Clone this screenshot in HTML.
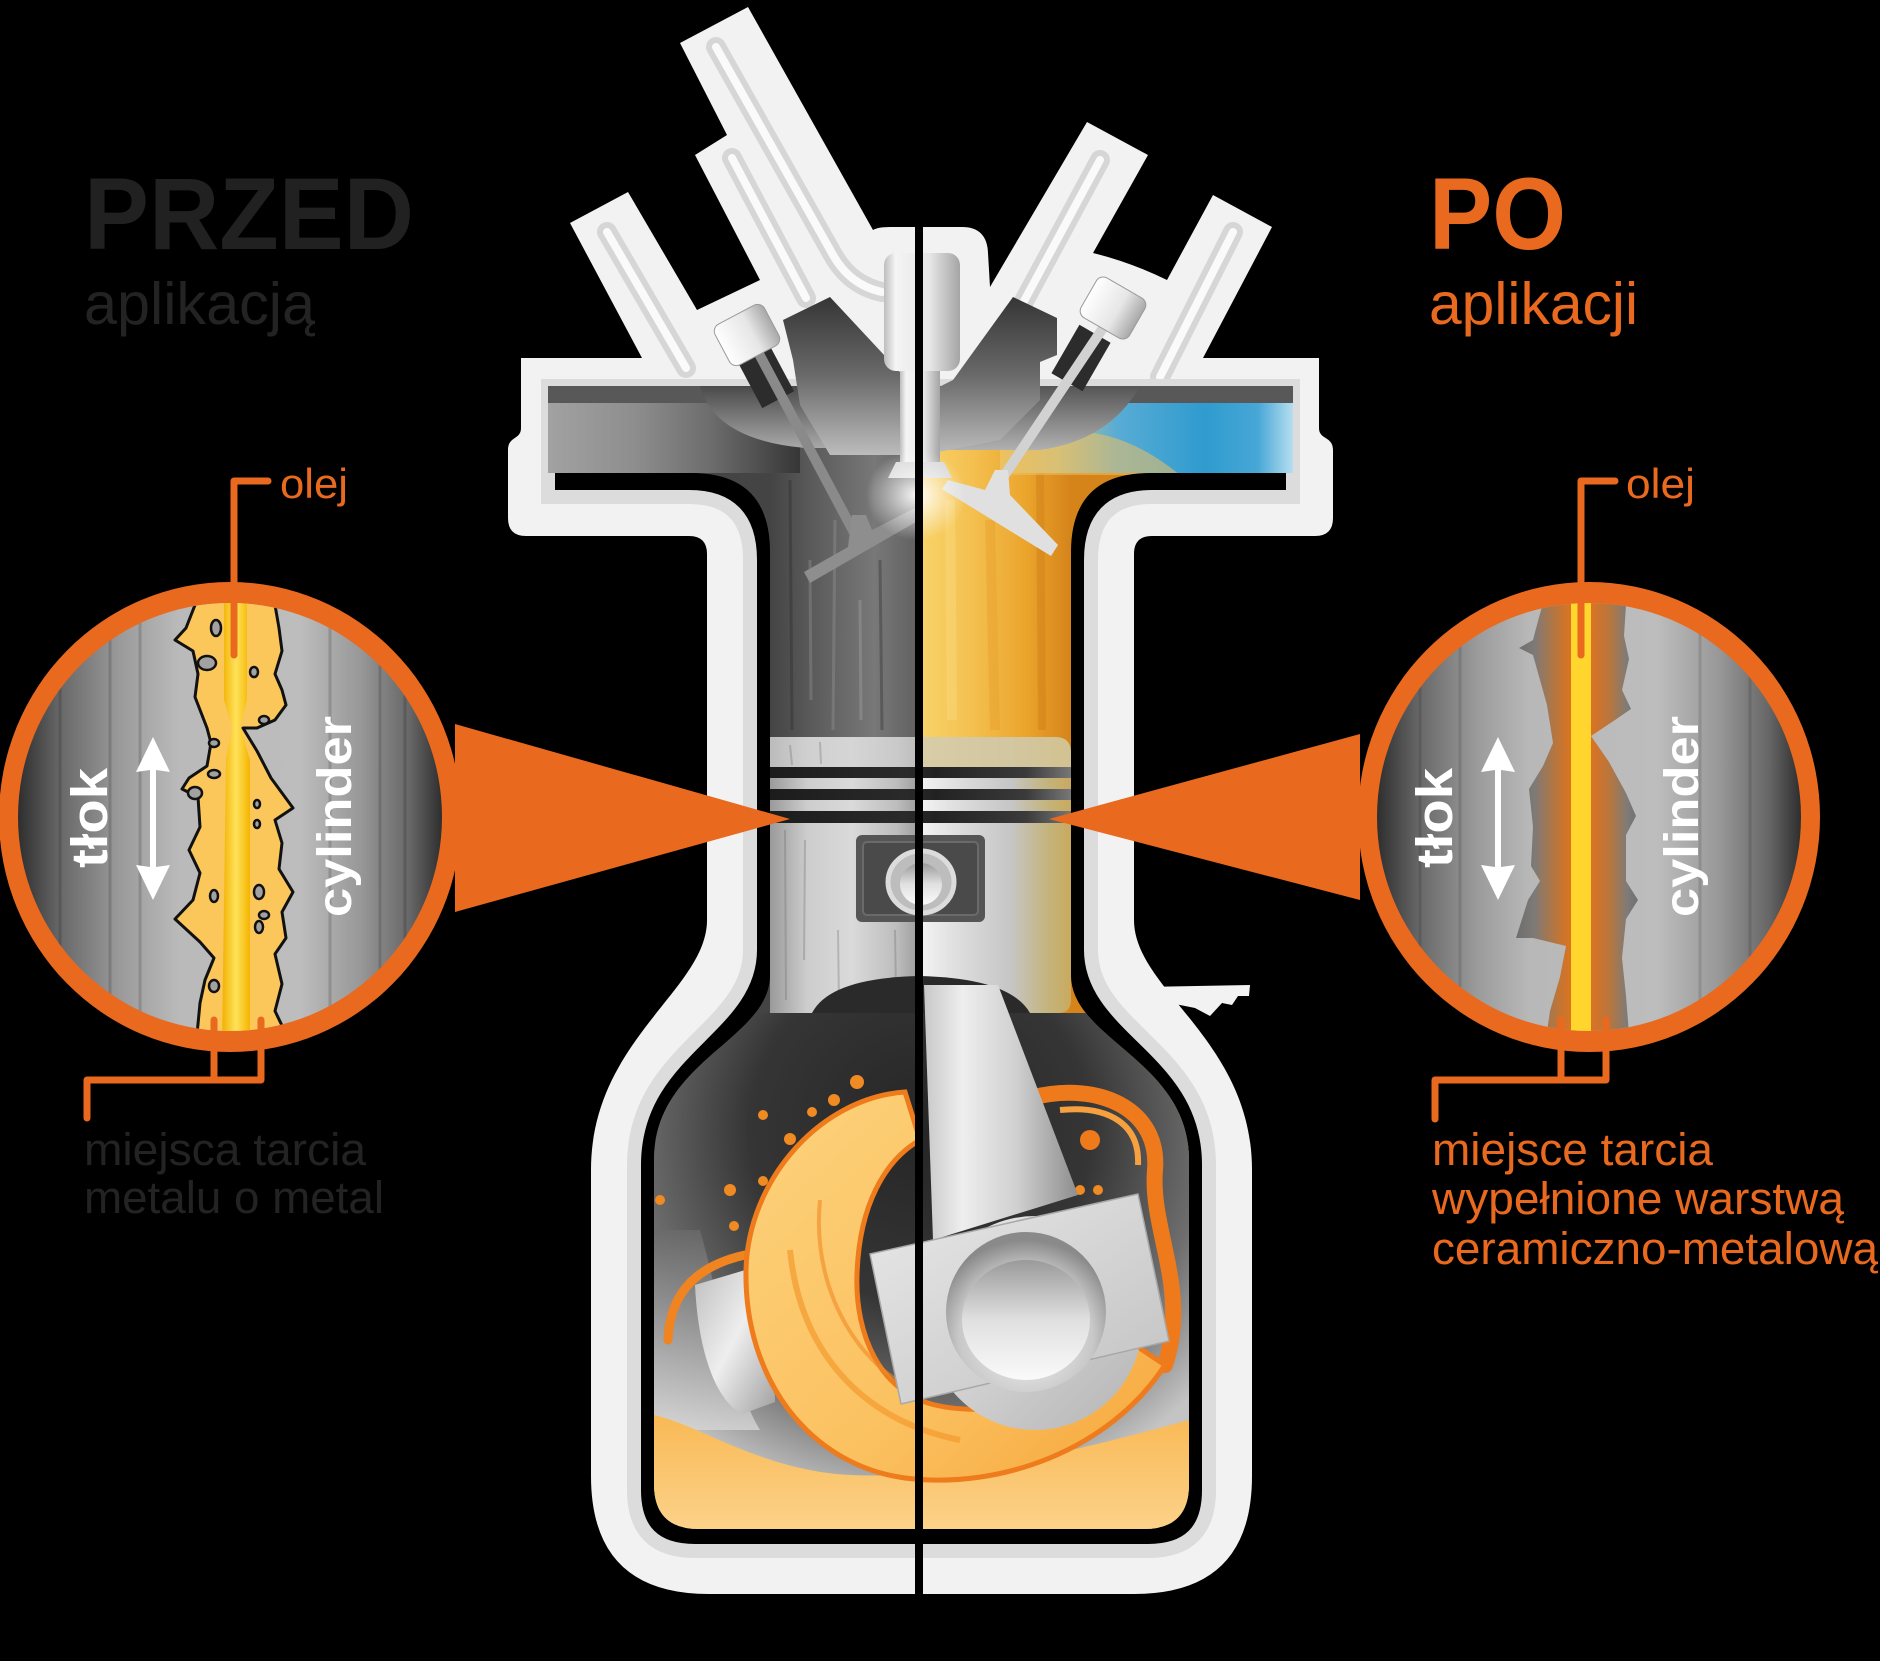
<!DOCTYPE html>
<html><head><meta charset="utf-8"><style>
html,body{margin:0;padding:0;background:#000;}
svg{display:block;}
text{font-family:"Liberation Sans",Arial,sans-serif;}
</style></head><body>
<svg width="1880" height="1661" viewBox="0 0 1880 1661" xmlns="http://www.w3.org/2000/svg">
<defs>
<linearGradient id="lcirc" gradientUnits="userSpaceOnUse" x1="18" y1="0" x2="442" y2="0">
<stop offset="0" stop-color="#2e2e2e"/><stop offset="0.1" stop-color="#686868"/><stop offset="0.24" stop-color="#9a9a9a"/><stop offset="0.38" stop-color="#bababa"/><stop offset="0.665" stop-color="#bdbdbd"/><stop offset="0.807" stop-color="#989898"/><stop offset="0.925" stop-color="#666"/><stop offset="1" stop-color="#2e2e2e"/></linearGradient>
<linearGradient id="rcirc" gradientUnits="userSpaceOnUse" x1="1377" y1="0" x2="1801" y2="0">
<stop offset="0" stop-color="#2e2e2e"/><stop offset="0.1" stop-color="#686868"/><stop offset="0.24" stop-color="#9c9c9c"/><stop offset="0.36" stop-color="#b8b8b8"/><stop offset="0.66" stop-color="#bdbdbd"/><stop offset="0.807" stop-color="#989898"/><stop offset="0.925" stop-color="#666"/><stop offset="1" stop-color="#2e2e2e"/></linearGradient>
<linearGradient id="streakL" x1="0" y1="0" x2="1" y2="0"><stop offset="0" stop-color="#f2b000"/><stop offset="0.5" stop-color="#ffe25a"/><stop offset="1" stop-color="#f5b400"/></linearGradient>
<linearGradient id="bandR" gradientUnits="userSpaceOnUse" x1="1516" y1="0" x2="1640" y2="0">
<stop offset="0" stop-color="#6e6e6e"/><stop offset="0.15" stop-color="#7e7a76"/><stop offset="0.35" stop-color="#c27534"/><stop offset="0.46" stop-color="#e1731d"/><stop offset="0.58" stop-color="#e1731d"/><stop offset="0.76" stop-color="#b7763f"/><stop offset="0.9" stop-color="#7d7b79"/><stop offset="1" stop-color="#6e6e6e"/></linearGradient>
<linearGradient id="cylL" gradientUnits="userSpaceOnUse" x1="770" y1="0" x2="919" y2="0"><stop offset="0" stop-color="#444"/><stop offset="0.3" stop-color="#5c5c5c"/><stop offset="0.7" stop-color="#787878"/><stop offset="1" stop-color="#606060"/></linearGradient>
<linearGradient id="cylR" gradientUnits="userSpaceOnUse" x1="919" y1="0" x2="1071" y2="0"><stop offset="0" stop-color="#f8d46a"/><stop offset="0.35" stop-color="#f4c050"/><stop offset="0.7" stop-color="#eba52c"/><stop offset="1" stop-color="#d5841a"/></linearGradient>
<linearGradient id="chL" gradientUnits="userSpaceOnUse" x1="548" y1="0" x2="800" y2="0"><stop offset="0" stop-color="#a2a2a2"/><stop offset="0.35" stop-color="#8d8d8d"/><stop offset="0.65" stop-color="#6c6c6c"/><stop offset="1" stop-color="#363636"/></linearGradient>
<linearGradient id="chR" gradientUnits="userSpaceOnUse" x1="1000" y1="0" x2="1293" y2="0"><stop offset="0" stop-color="#eec25c"/><stop offset="0.2" stop-color="#b9c090"/><stop offset="0.4" stop-color="#58acd4"/><stop offset="0.7" stop-color="#2f9bcf"/><stop offset="0.88" stop-color="#47a7d6"/><stop offset="1" stop-color="#b6def0"/></linearGradient>
<linearGradient id="domeL" x1="0" y1="0" x2="0" y2="1"><stop offset="0" stop-color="#4a4a4a"/><stop offset="1" stop-color="#a8a8a8"/></linearGradient>
<linearGradient id="domeR" x1="0" y1="0" x2="0" y2="1"><stop offset="0" stop-color="#555"/><stop offset="1" stop-color="#b0b0b0"/></linearGradient>
<linearGradient id="housing" x1="0" y1="0" x2="0" y2="1"><stop offset="0" stop-color="#353535"/><stop offset="0.5" stop-color="#6a6a6a"/><stop offset="1" stop-color="#bcbcbc"/></linearGradient>
<linearGradient id="capG" x1="0" y1="0" x2="1" y2="0"><stop offset="0" stop-color="#ffffff"/><stop offset="0.6" stop-color="#e6e6e6"/><stop offset="1" stop-color="#a8a8a8"/></linearGradient>
<linearGradient id="ccap" x1="0" y1="0" x2="1" y2="0"><stop offset="0" stop-color="#bdbdbd"/><stop offset="0.15" stop-color="#f4f4f4"/><stop offset="0.6" stop-color="#e6e6e6"/><stop offset="1" stop-color="#a5a5a5"/></linearGradient>
<linearGradient id="pistL" gradientUnits="userSpaceOnUse" x1="770" y1="0" x2="919" y2="0"><stop offset="0" stop-color="#9a9a9a"/><stop offset="0.25" stop-color="#cdcdcd"/><stop offset="0.55" stop-color="#dadada"/><stop offset="0.85" stop-color="#bdbdbd"/><stop offset="1" stop-color="#9c9c9c"/></linearGradient>
<linearGradient id="pistR" gradientUnits="userSpaceOnUse" x1="919" y1="0" x2="1071" y2="0"><stop offset="0" stop-color="#f4f4f4"/><stop offset="0.3" stop-color="#dadada"/><stop offset="0.6" stop-color="#c6c6c6"/><stop offset="0.85" stop-color="#c4b37c"/><stop offset="1" stop-color="#c9aa5e"/></linearGradient>
<linearGradient id="ringG" gradientUnits="userSpaceOnUse" x1="770" y1="0" x2="1071" y2="0"><stop offset="0" stop-color="#1c1c1c"/><stop offset="0.45" stop-color="#2a2a2a"/><stop offset="0.55" stop-color="#222"/><stop offset="0.85" stop-color="#3a3a3a"/><stop offset="1" stop-color="#777"/></linearGradient>
<radialGradient id="crankBg" gradientUnits="userSpaceOnUse" cx="920" cy="1130" r="380"><stop offset="0" stop-color="#262626"/><stop offset="0.45" stop-color="#353535"/><stop offset="0.75" stop-color="#6e6e6e"/><stop offset="1" stop-color="#c4c4c4"/></radialGradient>
<linearGradient id="oilPool" x1="0" y1="0" x2="0" y2="1"><stop offset="0" stop-color="#f9b955"/><stop offset="1" stop-color="#fcd48e"/></linearGradient>
<linearGradient id="swirlG" x1="0" y1="0" x2="1" y2="1"><stop offset="0" stop-color="#fdd27c"/><stop offset="0.6" stop-color="#fbc160"/><stop offset="1" stop-color="#f6a53a"/></linearGradient>
<linearGradient id="rodG" gradientUnits="userSpaceOnUse" x1="924" y1="0" x2="1078" y2="0"><stop offset="0" stop-color="#c8c8c8"/><stop offset="0.25" stop-color="#eeeeee"/><stop offset="0.6" stop-color="#d0d0d0"/><stop offset="1" stop-color="#8e8e8e"/></linearGradient>
<linearGradient id="bigG" x1="0" y1="0" x2="1" y2="1"><stop offset="0" stop-color="#ececec"/><stop offset="1" stop-color="#b4b4b4"/></linearGradient>
<linearGradient id="capR" x1="0" y1="0" x2="1" y2="1"><stop offset="0" stop-color="#e8e8e8"/><stop offset="1" stop-color="#c2c2c2"/></linearGradient>
<radialGradient id="boreG" cx="0.5" cy="0.65" r="0.6"><stop offset="0" stop-color="#f8f8f8"/><stop offset="0.7" stop-color="#c8c8c8"/><stop offset="1" stop-color="#8a8a8a"/></radialGradient>
<linearGradient id="ballG" x1="0" y1="0" x2="0" y2="1"><stop offset="0" stop-color="#9a9a9a"/><stop offset="0.5" stop-color="#e0e0e0"/><stop offset="1" stop-color="#fafafa"/></linearGradient>
<radialGradient id="glow" cx="0.5" cy="0.5" r="0.5"><stop offset="0" stop-color="#fff" stop-opacity="0.95"/><stop offset="1" stop-color="#fff" stop-opacity="0"/></radialGradient>
<linearGradient id="cwG" x1="0" y1="0" x2="1" y2="1"><stop offset="0" stop-color="#bdbdbd"/><stop offset="0.5" stop-color="#eeeeee"/><stop offset="1" stop-color="#a0a0a0"/></linearGradient>
<linearGradient id="lwall" x1="0" y1="0" x2="0" y2="1"><stop offset="0" stop-color="#6a6a6a"/><stop offset="1" stop-color="#d6d6d6"/></linearGradient>
<clipPath id="cint"><path d="M 548 386 L 1293 386 L 1293 473 L 1150 473 Q 1071 473 1071 552 L 1071 975 C 1071 1040 1189 1060 1189 1160 L 1189 1484 Q 1189 1529 1144 1529 L 699 1529 Q 654 1529 654 1484 L 654 1160 C 654 1060 770 1040 770 975 L 770 552 Q 770 473 691 473 L 548 473 Z"/></clipPath>
<clipPath id="clc"><ellipse cx="230" cy="817" rx="212" ry="214"/></clipPath>
<clipPath id="crc"><ellipse cx="1589" cy="817" rx="212" ry="214"/></clipPath>
</defs>
<rect width="1880" height="1661" fill="#000"/>

<!-- Headings -->
<text x="84" y="249" font-size="102" font-weight="bold" fill="#212121" textLength="330" lengthAdjust="spacingAndGlyphs">PRZED</text>
<text x="84" y="324" font-size="59" fill="#232323" textLength="231" lengthAdjust="spacingAndGlyphs">aplikacją</text>
<text x="1429" y="249" font-size="102" font-weight="bold" fill="#e9691f" textLength="137" lengthAdjust="spacingAndGlyphs">PO</text>
<text x="1429" y="324" font-size="59" fill="#e9691f" textLength="209" lengthAdjust="spacingAndGlyphs">aplikacji</text>

<!-- ENGINE outer white -->
<path d="M 521 358 L 642 358 L 570 223 L 628 192 L 697 310 L 760 280 L 695 155 L 727 135 L 680 43 L 748 7 L 873 230 Q 878 227 890 227 L 962 227 Q 987 227 988 253 L 990 287 L 1087 122 L 1148 155 L 1093 253 Q 1130 262 1167 280 L 1213 195 L 1272 227 L 1203 358 L 1319 358 L 1319 428 C 1319 440 1333 436 1333 450 L 1333 518 Q 1333 536 1315 536 L 1152 536 Q 1134 536 1134 554 L 1134 920 C 1134 990 1252 1040 1252 1170 L 1252 1476 Q 1252 1594 1134 1594 L 709 1594 Q 591 1594 591 1476 L 591 1170 C 591 1040 707 990 707 920 L 707 554 Q 707 536 689 536 L 526 536 Q 508 536 508 518 L 508 450 C 508 436 521 440 521 428 Z" fill="#f2f2f2"/>
<!-- fin grooves -->
<g stroke-linecap="round" fill="none">
<path d="M 607 232 L 686 368" stroke="#d6d6d6" stroke-width="20"/><path d="M 607 232 L 686 368" stroke="#fafafa" stroke-width="8"/>
<path d="M 732 158 L 806 298" stroke="#d6d6d6" stroke-width="20"/><path d="M 732 158 L 806 298" stroke="#fafafa" stroke-width="8"/>
<path d="M 716 47 L 833 255 Q 850 285 882 292" stroke="#d6d6d6" stroke-width="20"/><path d="M 716 47 L 833 255 Q 850 285 882 292" stroke="#fafafa" stroke-width="8"/>
<path d="M 1100 160 L 1023 303" stroke="#d6d6d6" stroke-width="20"/><path d="M 1100 160 L 1023 303" stroke="#fafafa" stroke-width="8"/>
<path d="M 1233 232 L 1160 377" stroke="#d6d6d6" stroke-width="20"/><path d="M 1233 232 L 1160 377" stroke="#fafafa" stroke-width="8"/>
</g>
<!-- black gap -->
<path d="M 548 386 L 1293 386 L 1293 497 L 1152 497 Q 1091 497 1091 560 L 1091 950 C 1091 1030 1209 1050 1209 1165 L 1209 1490 Q 1209 1551 1148 1551 L 695 1551 Q 634 1551 634 1490 L 634 1165 C 634 1050 750 1030 750 950 L 750 560 Q 750 497 689 497 L 548 497 Z" fill="#000" stroke="#dcdcdc" stroke-width="14"/>

<!-- interior -->
<g clip-path="url(#cint)">
<rect x="540" y="380" width="379" height="1160" fill="url(#cylL)"/>
<rect x="919" y="380" width="380" height="1160" fill="url(#cylR)"/>
<g opacity="0.35" stroke-width="3">
<line x1="790" y1="480" x2="792" y2="730" stroke="#2a2a2a"/><line x1="835" y1="520" x2="833" y2="730" stroke="#9a9a9a"/><line x1="880" y1="560" x2="882" y2="730" stroke="#2a2a2a"/><line x1="860" y1="600" x2="861" y2="720" stroke="#aaa"/><line x1="810" y1="560" x2="811" y2="700" stroke="#999"/>
<line x1="1040" y1="470" x2="1042" y2="730" stroke="#c97512" stroke-width="8"/><line x1="990" y1="520" x2="995" y2="730" stroke="#e79a26" stroke-width="10"/><line x1="950" y1="500" x2="952" y2="720" stroke="#fde08a" stroke-width="10"/>
</g>
<rect x="548" y="386" width="252" height="87" fill="url(#chL)"/>
<rect x="1000" y="386" width="293" height="87" fill="url(#chR)"/>
<path d="M 990 475 L 1060 432 Q 1120 426 1180 475 Z" fill="#f0c060" opacity="0.55"/>
<rect x="548" y="386" width="745" height="17" fill="#585858"/>
<path d="M 700 386 Q 715 440 805 448 L 915 448 L 915 386 Z" fill="url(#domeL)"/>
<path d="M 1140 386 Q 1110 440 1040 450 L 923 450 L 923 386 Z" fill="url(#domeR)"/>
<!-- piston -->
<rect x="770" y="737" width="149" height="276" fill="url(#pistL)"/>
<path d="M 919 737 L 1055 737 Q 1071 737 1071 753 L 1071 1000 Q 1071 1013 1058 1013 L 919 1013 Z" fill="url(#pistR)"/>
<path d="M 919 737 L 1055 737 Q 1071 737 1071 753 L 1071 767 L 919 767 Z" fill="#d5c79a" opacity="0.85"/>
<rect x="770" y="737" width="149" height="30" fill="#d2d2d2" opacity="0.6"/>
<rect x="770" y="767" width="301" height="11" fill="url(#ringG)"/>
<rect x="770" y="789" width="301" height="11" fill="url(#ringG)"/>
<rect x="770" y="811" width="301" height="12" fill="url(#ringG)"/>
<g opacity="0.3" stroke="#666" stroke-width="2"><line x1="785" y1="830" x2="786" y2="1000"/><line x1="805" y1="840" x2="804" y2="960"/><line x1="838" y1="930" x2="839" y2="1005"/><line x1="895" y1="930" x2="896" y2="990"/><line x1="790" y1="745" x2="792" y2="765"/><line x1="820" y1="742" x2="821" y2="764"/></g>
<!-- crankcase -->
<rect x="640" y="1013" width="560" height="530" fill="url(#crankBg)"/>
<path d="M 812 1013 Q 830 978 919 976 Q 1010 978 1030 1013 Z" fill="#2a2a2a"/>
<path d="M 654 1230 L 700 1230 C 720 1300 730 1380 760 1430 L 654 1430 Z" fill="url(#lwall)" opacity="0.8"/>
<path d="M 695 1285 C 698 1350 715 1400 742 1414 L 775 1402 L 772 1262 Z" fill="url(#cwG)"/>
<path d="M 654 1415 C 700 1425 760 1470 850 1475 C 960 1480 1080 1450 1189 1420 L 1189 1540 L 654 1540 Z" fill="url(#oilPool)"/>
<path d="M 1030 1098 C 1100 1080 1160 1110 1155 1170 C 1150 1230 1190 1290 1165 1365" stroke="#ee7a1c" stroke-width="16" fill="none" stroke-linecap="round"/>
<path d="M 1060 1110 C 1110 1105 1140 1125 1138 1165" stroke="#f6a040" stroke-width="6" fill="none"/>
<circle cx="1090" cy="1140" r="10" fill="#ee7a1c"/>
<path d="M 745 1255 C 700 1265 670 1290 668 1340" stroke="#ef8420" stroke-width="9" fill="none" stroke-linecap="round"/>
<path d="M 905 1092 C 820 1098 748 1180 746 1270 C 744 1380 810 1465 905 1478 C 1000 1490 1110 1450 1165 1365 L 1120 1335 C 1075 1395 1000 1420 935 1405 C 880 1392 855 1335 857 1275 C 859 1205 885 1160 920 1140 Z" fill="url(#swirlG)" stroke="#ee7b1c" stroke-width="5"/>
<path d="M 790 1250 C 800 1350 860 1420 960 1440" stroke="#f39a2e" stroke-width="6" fill="none" opacity="0.7"/>
<path d="M 820 1200 C 810 1300 870 1380 930 1395" stroke="#f08a24" stroke-width="4" fill="none" opacity="0.6"/>
<g fill="#f08a22"><circle cx="857" cy="1082" r="7"/><circle cx="834" cy="1100" r="6"/><circle cx="812" cy="1112" r="5"/><circle cx="790" cy="1139" r="6"/><circle cx="763" cy="1115" r="5"/><circle cx="763" cy="1181" r="5"/><circle cx="730" cy="1190" r="6"/><circle cx="734" cy="1226" r="5"/><circle cx="660" cy="1200" r="5"/><circle cx="1080" cy="1190" r="5"/><circle cx="1098" cy="1190" r="5"/></g>
<!-- conrod -->
<polygon points="924,985 998,985 1078,1195 933,1240" fill="url(#rodG)"/>
<circle cx="1035" cy="1323" r="107" fill="url(#bigG)"/>
<polygon points="870,1254 1138,1194 1169,1341 901,1404" fill="url(#capR)" stroke="#a8a8a8" stroke-width="1.5" stroke-linejoin="round"/>
<circle cx="1026" cy="1312" r="80" fill="url(#boreG)"/>
<ellipse cx="1026" cy="1320" rx="64" ry="60" fill="url(#ballG)"/>
<!-- pin box -->
<rect x="856" y="835" width="129" height="87" rx="6" fill="#555"/>
<rect x="863" y="842" width="115" height="73" rx="4" fill="#4a4a4a" stroke="#6a6a6a" stroke-width="2"/>
<ellipse cx="921" cy="882" rx="33" ry="31" fill="#bdbdbd" stroke="#dcdcdc" stroke-width="5"/>
<ellipse cx="921" cy="884" rx="21" ry="21" fill="url(#ballG)"/>
</g>

<!-- head parts -->
<polygon points="783,320 830,297 912,385 915,455 830,455 800,405 793,360" fill="url(#housing)"/>
<polygon points="1013,297 1057,318 1057,355 1040,362 1040,400 1000,440 923,455 923,395 953,380" fill="url(#housing)"/>
<rect x="-18" y="-28" width="36" height="56" fill="#2c2c2c" transform="translate(765,375) rotate(-28)"/>
<rect x="-18" y="-28" width="36" height="56" fill="#2c2c2c" transform="translate(1081,358) rotate(30)"/>
<line x1="757" y1="350" x2="858" y2="540" stroke="#8a8a8a" stroke-width="10"/>
<line x1="1105" y1="325" x2="1000" y2="482" stroke="#d2d2d2" stroke-width="10"/>
<rect x="-28" y="-23" width="56" height="46" rx="8" fill="url(#capG)" stroke="#9a9a9a" stroke-width="1" transform="translate(747,335) rotate(-28)"/>
<rect x="-28" y="-23" width="56" height="46" rx="8" fill="url(#capG)" stroke="#9a9a9a" stroke-width="1" transform="translate(1113,308) rotate(30)"/>
<rect x="900" y="368" width="40" height="100" fill="url(#ccap)"/>
<path d="M 896 462 L 944 462 L 952 478 L 888 478 Z" fill="#d8d8d8"/>
<rect x="884" y="253" width="76" height="118" rx="12" fill="url(#ccap)"/>
<polygon points="852,515 866,515 872,530 915,508 921,519 810,583 804,572 848,547" fill="#8e8e8e"/>
<polygon points="995,470 1008,470 1010,495 1058,545 1051,556 942,489 948,480 985,490" fill="#e0e0e0"/>
<ellipse cx="916" cy="495" rx="50" ry="45" fill="url(#glow)"/>
<!-- divider -->
<rect x="915" y="226" width="8" height="1368" fill="#000"/>
<polygon points="1142,987 1250,985 1249,996 1238,996 1232,1005 1222,1003 1210,1016 1195,1008 1170,1003 1155,997 1142,996" fill="#f2f2f2"/>

<!-- cones -->
<polygon points="455,724 790,819 455,912" fill="#e9691f"/>
<polygon points="1360,734 1049,819 1360,900" fill="#e9691f"/>

<!-- LEFT CIRCLE -->
<ellipse cx="230" cy="817" rx="231" ry="235" fill="#e9691f"/>
<g clip-path="url(#clc)">
<rect x="0" y="580" width="460" height="480" fill="url(#lcirc)"/>
<g opacity="0.15" stroke="#000" stroke-width="3"><line x1="60" y1="600" x2="60" y2="1040"/><line x1="110" y1="600" x2="110" y2="1040"/><line x1="140" y1="600" x2="140" y2="1040"/><line x1="330" y1="600" x2="330" y2="1040"/><line x1="380" y1="600" x2="380" y2="1040"/><line x1="405" y1="600" x2="405" y2="1040"/></g>
<path d="M 195 590 L 195 605 L 186 628 L 175 640 L 193 651 L 198 674 L 195 697 L 207 728 L 211 743 L 207 766 L 189 778 L 182 789 L 198 797 L 200 827 L 189 850 L 200 873 L 193 900 L 175 919 L 200 942 L 214 958 L 205 980 L 200 1003 L 196 1045 L 286 1045 L 286 1034 L 275 1011 L 282 984 L 275 954 L 286 938 L 282 912 L 293 892 L 279 869 L 282 843 L 275 820 L 293 808 L 282 793 L 271 778 L 257 751 L 243 728 L 257 728 L 275 720 L 286 705 L 282 690 L 275 674 L 282 651 L 279 628 L 275 605 L 275 590 Z" fill="#fbc65a" stroke="#111" stroke-width="3" stroke-linejoin="round"/>
<polygon points="224,590 247,590 247,700 240,726 250,760 250,1045 222,1045 226,760 232,726 224,700" fill="url(#streakL)"/>
<g fill="#a2a2a2" stroke="#111" stroke-width="2.5">
<ellipse cx="216" cy="628" rx="5" ry="8"/><ellipse cx="207" cy="663" rx="9" ry="7"/><ellipse cx="254" cy="672" rx="4" ry="5"/><ellipse cx="264" cy="720" rx="5" ry="4"/><ellipse cx="214" cy="743" rx="5" ry="4"/><ellipse cx="214" cy="774" rx="6" ry="4"/><ellipse cx="195" cy="793" rx="7" ry="6"/><ellipse cx="257" cy="804" rx="3" ry="4"/><ellipse cx="257" cy="824" rx="3" ry="4"/><ellipse cx="259" cy="892" rx="5" ry="7"/><ellipse cx="264" cy="915" rx="5" ry="4"/><ellipse cx="214" cy="896" rx="4" ry="6"/><ellipse cx="214" cy="986" rx="5" ry="6"/><ellipse cx="259" cy="927" rx="4" ry="6"/></g>
</g>
<text transform="translate(107,868) rotate(-90)" font-size="51" font-weight="bold" fill="#fff" textLength="100" lengthAdjust="spacingAndGlyphs">tłok</text>
<text transform="translate(351,917) rotate(-90)" font-size="48" font-weight="bold" fill="#fff" textLength="201" lengthAdjust="spacingAndGlyphs">cylinder</text>
<path d="M 153 737 L 170 772 L 156 770 L 156 867 L 170 865 L 153 900 L 136 865 L 150 867 L 150 770 L 136 772 Z" fill="#fff"/>
<g stroke="#e9691f" stroke-width="7" fill="none" stroke-linecap="round" stroke-linejoin="round">
<path d="M 234 655 L 234 481 L 268 481"/>
<path d="M 214 1020 L 214 1080"/><path d="M 87 1118 L 87 1080 L 261 1080 L 261 1020"/>
</g>
<text x="280" y="498" font-size="42" fill="#e9691f" textLength="68" lengthAdjust="spacingAndGlyphs">olej</text>
<text x="84" y="1165" font-size="45" fill="#232323" textLength="282" lengthAdjust="spacingAndGlyphs">miejsca tarcia</text>
<text x="84" y="1213" font-size="45" fill="#232323" textLength="300" lengthAdjust="spacingAndGlyphs">metalu o metal</text>

<!-- RIGHT CIRCLE -->
<ellipse cx="1589" cy="817" rx="231" ry="235" fill="#e9691f"/>
<g clip-path="url(#crc)">
<rect x="1355" y="580" width="470" height="480" fill="url(#rcirc)"/>
<g opacity="0.12" stroke="#000" stroke-width="3"><line x1="1420" y1="600" x2="1420" y2="1040"/><line x1="1460" y1="600" x2="1460" y2="1040"/><line x1="1700" y1="600" x2="1700" y2="1040"/><line x1="1750" y1="600" x2="1750" y2="1040"/></g>
<path d="M 1543 590 L 1543 603 L 1538 621 L 1533 640 L 1519 648 L 1533 655 L 1547 705 L 1553 743 L 1543 766 L 1529 789 L 1533 827 L 1531 866 L 1540 881 L 1528 900 L 1516 938 L 1533 938 L 1566 946 L 1560 977 L 1550 1011 L 1545 1045 L 1629 1045 L 1629 1034 L 1626 996 L 1622 958 L 1626 919 L 1638 900 L 1626 881 L 1626 835 L 1636 816 L 1626 793 L 1609 762 L 1591 736 L 1615 720 L 1631 709 L 1622 690 L 1629 659 L 1624 636 L 1626 605 L 1626 590 Z" fill="url(#bandR)"/>
<rect x="1571" y="590" width="20" height="455" fill="#ffd52e"/>
</g>
<text transform="translate(1452,868) rotate(-90)" font-size="51" font-weight="bold" fill="#fff" textLength="100" lengthAdjust="spacingAndGlyphs">tłok</text>
<text transform="translate(1698,917) rotate(-90)" font-size="48" font-weight="bold" fill="#fff" textLength="201" lengthAdjust="spacingAndGlyphs">cylinder</text>
<path d="M 1498 737 L 1515 772 L 1501 770 L 1501 867 L 1515 865 L 1498 900 L 1481 865 L 1495 867 L 1495 770 L 1481 772 Z" fill="#fff"/>
<g stroke="#e9691f" stroke-width="7" fill="none" stroke-linecap="round" stroke-linejoin="round">
<path d="M 1581 655 L 1581 481 L 1615 481"/>
<path d="M 1561 1020 L 1561 1080"/><path d="M 1435 1119 L 1435 1080 L 1606 1080 L 1606 1020"/>
</g>
<text x="1626" y="498" font-size="42" fill="#e9691f" textLength="69" lengthAdjust="spacingAndGlyphs">olej</text>
<text x="1432" y="1165" font-size="45" fill="#e9691f" textLength="281" lengthAdjust="spacingAndGlyphs">miejsce tarcia</text>
<text x="1432" y="1214" font-size="45" fill="#e9691f" textLength="412" lengthAdjust="spacingAndGlyphs">wypełnione warstwą</text>
<text x="1432" y="1264" font-size="45" fill="#e9691f" textLength="446" lengthAdjust="spacingAndGlyphs">ceramiczno-metalową</text>
</svg>
</body></html>
